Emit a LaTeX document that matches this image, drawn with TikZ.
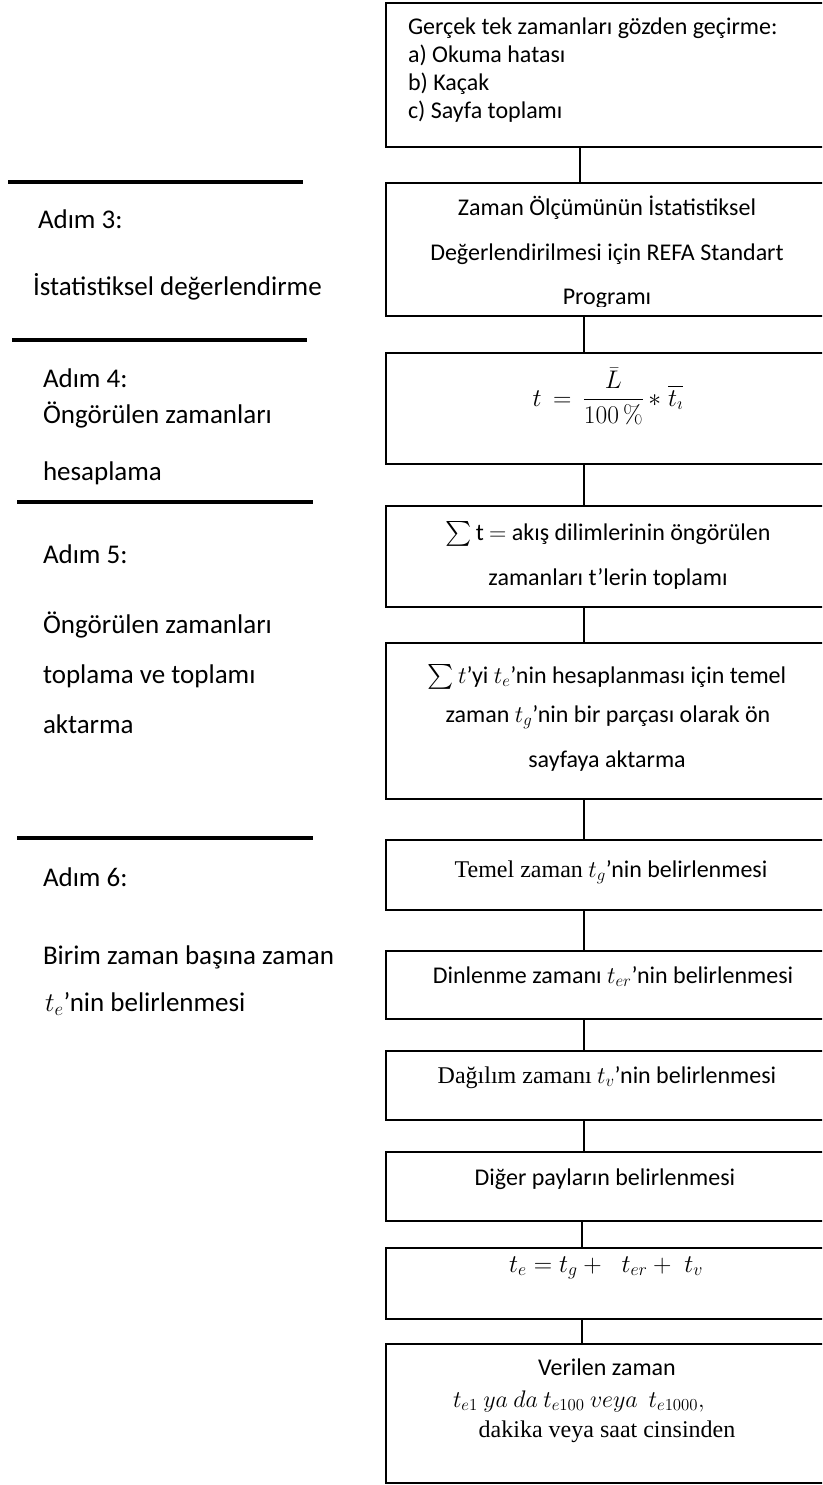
\RequirePackage{fix-cm}
\documentclass[tikz,border=0pt]{standalone}
\usepackage{amsmath}
\usepackage{fontspec}
\setmainfont{Carlito}
\newfontfamily\tnrfont{Liberation Serif}
\newcommand{\tnr}[1]{{\tnrfont\fontsize{24}{29}\selectfont #1}}
\newcommand{\cmpct}{\text{\usefont{OT1}{cmr}{m}{n}\%}}
\begin{document}
\begin{tikzpicture}[x=1pt,y=-1pt,
  font=\fontsize{24}{29}\selectfont,
  box/.style={draw, line width=2.5pt, rectangle, inner sep=0pt, outer sep=0pt,
              minimum width=484pt, anchor=north west},
  conn/.style={line width=1.5pt},
  rule/.style={line width=3.6pt},
  lt/.style={anchor=base west, inner sep=0pt, outer sep=0pt, font=\fontsize{27}{32}\selectfont},
  bt/.style={anchor=base west, inner sep=0pt, outer sep=0pt},
  ct/.style={anchor=base, inner sep=0pt, outer sep=0pt},
  eq/.style={anchor=base, inner sep=0pt, outer sep=0pt, font=\fontsize{25.5}{30}\selectfont}]
\clip (0,0) rectangle (822,1485);
\fill[white] (0,0) rectangle (822,1485);

% boxes
\node[box, minimum height=144pt] (b1) at (386,3) {};
\node[box, minimum height=133pt] (b2) at (386,183) {};
\node[box, minimum height=111pt] (b3) at (386,353) {};
\node[box, minimum height=101pt] (b4) at (386,506) {};
\node[box, minimum height=156pt] (b5) at (386,643) {};
\node[box, minimum height=70pt] (b6) at (386,840) {};
\node[box, minimum height=68pt] (b7) at (386,951) {};
\node[box, minimum height=69pt] (b8) at (386,1051) {};
\node[box, minimum height=69pt] (b9) at (386,1152) {};
\node[box, minimum height=71pt] (b10) at (386,1248) {};
\node[box, minimum height=139pt] (b11) at (386,1344) {};

% connector x positions
\coordinate (k1) at (580,0);
\coordinate (k2) at (584,0);
\coordinate (k3) at (582,0);
\draw[conn] (b1.south -| k1) -- (b2.north -| k1);
\draw[conn] (b2.south -| k2) -- (b3.north -| k2);
\draw[conn] (b3.south -| k2) -- (b4.north -| k2);
\draw[conn] (b4.south -| k2) -- (b5.north -| k2);
\draw[conn] (b5.south -| k2) -- (b6.north -| k2);
\draw[conn] (b6.south -| k2) -- (b7.north -| k2);
\draw[conn] (b7.south -| k2) -- (b8.north -| k2);
\draw[conn] (b8.south -| k2) -- (b9.north -| k2);
\draw[conn] (b9.south -| k3) -- (b10.north -| k3);
\draw[conn] (b10.south -| k3) -- (b11.north -| k3);

% box texts
\node[bt] (t1a) at (408,35) {Gerçek tek zamanları gözden geçirme:};
\node[bt] (t1b) at (408,63) {a) Okuma hatası};
\node[bt] (t1c) at (408,91) {b) Kaçak};
\node[bt] (t1d) at (408,118) {c) Sayfa toplamı};

\node[ct] (t2a) at (607,215) {Zaman Ölçümünün İstatistiksel};
\node[ct] (t2b) at (607,260) {Değerlendirilmesi için REFA Standart};
\begin{scope}
\clip (390,280) rectangle (800,306);
\node[ct] (t2c) at (607,304) {Programı};
\end{scope}

\node[eq] (t3) at (608,406) {$t\,=\,\dfrac{\bar{L}}{100\,\cmpct}\,{*}\;\overline{t_\imath}$};

\node[ct] (t4a) at (608,540) {$\sum$\,t $=$ akış dilimlerinin öngörülen};
\node[ct] (t4b) at (608,585) {zamanları t’lerin toplamı};

\node[ct] (t5a) at (607,683) {$\sum t$’yi $t_e$’nin hesaplanması için temel};
\node[ct] (t5b) at (608,722) {zaman $t_g$’nin bir parçası olarak ön};
\node[ct] (t5c) at (607,767) {sayfaya aktarma};

\node[ct] (t6) at (611,877) {\tnr{Temel zaman} $t_g$’nin belirlenmesi};
\node[ct] (t7) at (613,983) {Dinlenme zamanı $t_{er}$’nin belirlenmesi};
\node[ct] (t8) at (607,1083) {\tnr{Dağılım zamanı} $t_v$’nin belirlenmesi};
\node[ct] (t9) at (605,1185) {Diğer payların belirlenmesi};
\node[eq] (t10) at (606,1272) {$t_e = t_g +\;\; t_{er} +\; t_v$};
\node[ct] (t11a) at (607,1375) {Verilen zaman};
\node[bt] (t11b) at (453,1407) {$t_{e1}\ ya\ da\ t_{e100}\ veya\ \ t_{e1000},$};
\node[ct] (t11c) at (607,1437) {\tnr{dakika veya saat cinsinden}};

% left column
\draw[rule] (8,182) -- (303,182);
\draw[rule] (12,340) -- (307,340);
\draw[rule] (17,502) -- (313,502);
\draw[rule] (17,838) -- (313,838);

\node[lt] (a3) at (38,228) {Adım 3:};
\node[lt] (a3t) at (33,295) {İstatistiksel değerlendirme};
\node[lt] (a4) at (43,387) {Adım 4:};
\node[lt] (a4t1) at (43,423) {Öngörülen zamanları};
\node[lt] (a4t2) at (43,480) {hesaplama};
\node[lt] (a5) at (43,563) {Adım 5:};
\node[lt] (a5t1) at (43,633) {Öngörülen zamanları};
\node[lt] (a5t2) at (43,683) {toplama ve toplamı};
\node[lt] (a5t3) at (43,733) {aktarma};
\node[lt] (a6) at (43,886) {Adım 6:};
\node[lt] (a6t1) at (43,964) {Birim zaman başına zaman};
\node[lt] (a6t2) at (45,1011) {$t_e$’nin belirlenmesi};
\end{tikzpicture}
\end{document}
